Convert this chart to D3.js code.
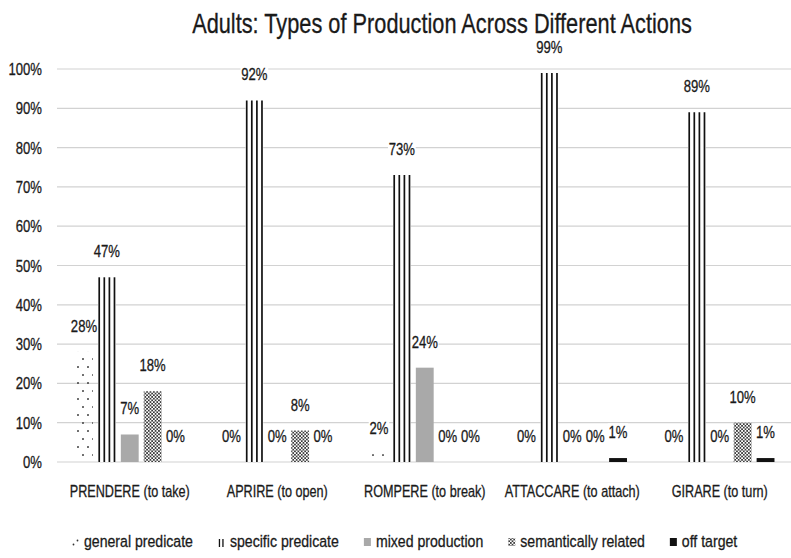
<!DOCTYPE html>
<html>
<head>
<meta charset="utf-8">
<script src="https://cdn.jsdelivr.net/npm/d3@7"></script>
<style>
  body { margin: 0; background: #fff; }
  text { font-family: "Liberation Sans", Arial, sans-serif; fill: #1a1a1a; stroke: #1a1a1a; stroke-width: 0.3; }
</style>
</head>
<body>
<svg id="chart" width="791" height="558"></svg>
<script>
// ---- data ----
const title = "Adults: Types of Production Across Different Actions";
const categories = ["PRENDERE (to take)", "APRIRE (to open)", "ROMPERE (to break)", "ATTACCARE (to attach)", "GIRARE (to turn)"];
const seriesNames = ["general predicate", "specific predicate", "mixed production", "semantically related", "off target"];
const generalPredicate    = [0.28, 0.00, 0.02, 0.00, 0.00];
const specificPredicate   = [0.47, 0.92, 0.73, 0.99, 0.89];
const mixedProduction     = [0.07, 0.00, 0.24, 0.00, 0.00];
const semanticallyRelated = [0.18, 0.08, 0.00, 0.00, 0.10];
const offTarget           = [0.00, 0.00, 0.00, 0.01, 0.01];
const yTicks = [0, 0.1, 0.2, 0.3, 0.4, 0.5, 0.6, 0.7, 0.8, 0.9, 1.0];

const seriesValues = [generalPredicate, specificPredicate, mixedProduction, semanticallyRelated, offTarget];
const rows = [];
categories.forEach((c, ci) => seriesNames.forEach((s, si) => rows.push({ cat: c, series: s, si, value: seriesValues[si][ci] })));

// ---- layout ----
const svg = d3.select("#chart");
const plot = { left: 56, right: 793.5, top: 69, bottom: 462 };
const narrow = 0.77;          // horizontal squeeze giving the condensed lettering

const x = d3.scaleBand().domain(categories).range([plot.left, plot.right]);
const xs = d3.scaleBand().domain(seriesNames)
  .range([x.step() / 2 - 57.25, x.step() / 2 + 57.25])
  .paddingInner(0.22).paddingOuter(0.11);
const y = d3.scaleLinear().domain([0, 1]).range([plot.bottom, plot.top]);
const pct = d3.format(".0%");

// ---- fills ----
const defs = svg.append("defs");
const dots = defs.append("pattern").attr("id", "pat-general")
  .attr("patternUnits", "userSpaceOnUse").attr("width", 10).attr("height", 16);
dots.append("circle").attr("cx", 8).attr("cy", 15).attr("r", 0.95).attr("fill", "#333");
dots.append("circle").attr("cx", 3).attr("cy", 7).attr("r", 0.95).attr("fill", "#333");

const check = defs.append("pattern").attr("id", "pat-semantic")
  .attr("patternUnits", "userSpaceOnUse").attr("width", 3.4).attr("height", 3.4);
check.append("rect").attr("width", 3.4).attr("height", 3.4).attr("fill", "#fff");
check.append("rect").attr("x", 0).attr("y", 0).attr("width", 1.7).attr("height", 1.7).attr("fill", "#3a3a3a");
check.append("rect").attr("x", 1.7).attr("y", 1.7).attr("width", 1.7).attr("height", 1.7).attr("fill", "#3a3a3a");

const fills = {
  "general predicate": "url(#pat-general)",
  "specific predicate": "#fff",
  "mixed production": "#a9a9a9",
  "semantically related": "url(#pat-semantic)",
  "off target": "#111"
};

// ---- condensed text helper ----
function label(parent, tx, ty, str, size, sx, anchor, bg) {
  const g = parent.append("g").attr("transform", `translate(${tx},${ty}) scale(${sx},1)`);
  const t = g.append("text").attr("text-anchor", anchor).attr("font-size", size).text(str);
  if (bg) {
    const b = t.node().getBBox();
    g.insert("rect", "text").attr("x", b.x - 1).attr("y", b.y + 1)
      .attr("width", b.width + 2).attr("height", b.height - 2).attr("fill", "#fff");
  }
  return t;
}

// ---- gridlines ----
svg.append("g").selectAll("line").data(yTicks).join("line")
  .attr("x1", 57).attr("x2", 791)
  .attr("y1", d => y(d)).attr("y2", d => y(d))
  .attr("stroke", "#d2d2d2").attr("stroke-width", 1.2);

// ---- y tick labels ----
const yl = svg.append("g");
yTicks.forEach(t => label(yl, 42, y(t) + 6, pct(t), 17, narrow, "end"));

// ---- bars ----
const barsG = svg.append("g");
const bars = barsG.selectAll("g.bar").data(rows.filter(d => d.value > 0)).join("g").attr("class", "bar");
bars.append("rect")
  .attr("x", d => x(d.cat) + xs(d.series))
  .attr("y", d => y(d.value))
  .attr("width", xs.bandwidth())
  .attr("height", d => y(0) - y(d.value))
  .attr("fill", d => fills[d.series]);

// vertical rules of the specific-predicate bars
bars.filter(d => d.series === "specific predicate").each(function (d) {
  const g = d3.select(this);
  const x0 = x(d.cat) + xs(d.series);
  const w = xs.bandwidth();
  d3.range(4).forEach(i => {
    const lx = x0 + 1.3 + i * (w - 2.6) / 3;
    g.append("line").attr("x1", lx).attr("x2", lx)
      .attr("y1", y(d.value)).attr("y2", y(0))
      .attr("stroke", "#111").attr("stroke-width", 1.7);
  });
});

// ---- value labels ----
const vl = svg.append("g");
rows.forEach(d => {
  const cx = x(d.cat) + xs(d.series) + xs.bandwidth() / 2;
  label(vl, cx, y(d.value) - 20, pct(d.value), 17, narrow, "middle", true);
});

// ---- category labels ----
const cl = svg.append("g");
categories.forEach(c => label(cl, x(c) + x.bandwidth() / 2, 497, c, 16, 0.79, "middle"));

// ---- title, squeezed to its condensed width ----
const titleText = label(svg, 442, 33, title, 28, 1, "middle");
const titleW = titleText.node().getComputedTextLength();
d3.select(titleText.node().parentNode).attr("transform", `translate(442,33) scale(${500 / titleW},1)`);

// ---- legend ----
const lg = svg.append("g");
let lx = 72;
const ly = 547;
seriesNames.forEach(s => {
  const m = lg.append("g").attr("transform", `translate(${lx},${ly - 10})`);
  if (s === "general predicate") {
    m.append("circle").attr("cx", 1.5).attr("cy", 7.5).attr("r", 0.9).attr("fill", "#333");
    m.append("circle").attr("cx", 5.5).attr("cy", 3.5).attr("r", 0.9).attr("fill", "#333");
  } else if (s === "specific predicate") {
    [1.5, 5].forEach(v => m.append("line").attr("x1", v).attr("x2", v).attr("y1", 2).attr("y2", 10)
      .attr("stroke", "#111").attr("stroke-width", 1.3));
  } else {
    m.append("rect").attr("x", 0).attr("y", 1).attr("width", 7).attr("height", 8).attr("fill", fills[s]);
  }
  const t = label(lg, lx + 12, ly, s, 17, 0.83, "start");
  lx += 12 + t.node().getComputedTextLength() * 0.83 + 25;
});
</script>
</body>
</html>
